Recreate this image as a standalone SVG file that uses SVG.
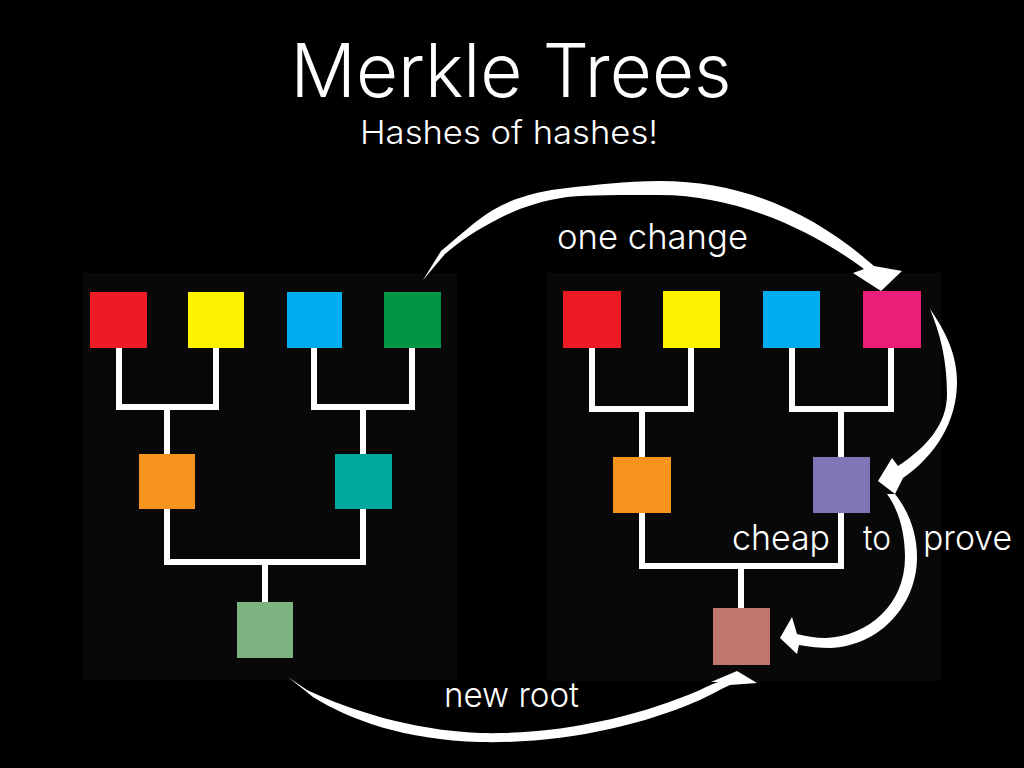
<svg xmlns="http://www.w3.org/2000/svg" width="1024" height="768" viewBox="0 0 1024 768">
<style>
.bg{fill:#000}
.panel{fill:#080808}
.ln{fill:none;stroke:#fff;stroke-width:6;stroke-linejoin:miter;stroke-linecap:butt}
.arr{fill:#fff;stroke:none}
.t{fill:#fff;font-family:Inter,Roboto,"Liberation Sans",sans-serif;font-weight:300}
.lbl{font-size:35px}
</style>
<rect class="bg" x="0" y="0" width="1024" height="768"/>
<rect class="panel" x="83" y="273" width="374" height="407"/>
<rect class="panel" x="547" y="273" width="394" height="408"/>

<text class="t" x="511" y="97" font-size="74" text-anchor="middle" textLength="441" lengthAdjust="spacingAndGlyphs">Merkle Trees</text>
<text class="t" x="509" y="144" font-size="32" text-anchor="middle" textLength="298" lengthAdjust="spacingAndGlyphs">Hashes of hashes!</text>

<g id="connectors">
  <g id="tree-lines">
    <polyline class="ln" points="119,348 119,407 216,407 216,348"/>
    <line class="ln" x1="167" y1="407" x2="167" y2="454"/>
    <polyline class="ln" points="314,348 314,407 412,407 412,348"/>
    <line class="ln" x1="363" y1="407" x2="363" y2="454"/>
    <polyline class="ln" points="167,509 167,562 363,562 363,509"/>
    <line class="ln" x1="265" y1="562" x2="265" y2="602"/>
    <polyline class="ln" points="592,348 592,409 691,409 691,348"/>
    <line class="ln" x1="642" y1="409" x2="642" y2="457"/>
    <polyline class="ln" points="792,348 792,409 891,409 891,348"/>
    <line class="ln" x1="841" y1="409" x2="841" y2="457"/>
    <polyline class="ln" points="642,513 642,566 841,566 841,513"/>
    <line class="ln" x1="741" y1="566" x2="741" y2="608"/>
  </g>
  <g id="arrows">
    <path id="arrow-one-change" class="arr" d="M423 280 L441 251 C458 237 475 221 493 210 C515 197 540 191 567 188 C594 185 625 181 660 181 C740 181 810 210 874 266 L902 271 L881 291 L853 273 L864 269 C805 225 730 195 660 195 C620 195 590 195 567 197 C540 201 520 208 500 218 C478 229 460 241 445 254 Z"/>
    <path id="arrow-up-path" class="arr" d="M930 309 C946 332 957 355 957 382 C957 422 935 456 903 478 L895 494 L878 481 L892 458 L898 466 C927 447 947 424 947 394 C947 360 940 333 930 309 Z"/>
    <path id="arrow-to-root" class="arr" d="M887 494 C900 512 905 535 905 557 C905 605 868 636 826 638 C815 638 805 636 797 634 L792 617 L780 638 L797 654 L799 645 C810 647 820 648 830 648 C880 646 917 605 917 557 C917 533 909 512 895 494 Z"/>
    <path id="arrow-new-root" class="arr" d="M288 677 L307 690 C350 710 410 730 480 733 C560 735 640 716 700 690 C706 687 712 684 718 682 L711 682 L737 671 L757 683 L730 685 C715 692 705 698 695 702 C640 726 560 744 480 742 C405 740 350 720 313 697 Z"/>
  </g>
</g>

<g id="left-tree">
  <rect id="l-red" x="90" y="292" width="57" height="56" fill="#ED1C24"/>
  <rect id="l-yellow" x="188" y="292" width="56" height="56" fill="#FFF200"/>
  <rect id="l-blue" x="287" y="292" width="55" height="56" fill="#00AEEF"/>
  <rect id="l-green" x="384" y="292" width="57" height="56" fill="#009444"/>
  <rect id="l-orange" x="139" y="454" width="56" height="55" fill="#F7941D"/>
  <rect id="l-teal" x="335" y="454" width="57" height="55" fill="#00A99D"/>
  <rect id="l-root" x="237" y="602" width="56" height="56" fill="#7DB281"/>
</g>
<g id="right-tree">
  <rect id="r-red" x="563" y="291" width="58" height="57" fill="#ED1C24"/>
  <rect id="r-yellow" x="663" y="291" width="57" height="57" fill="#FFF200"/>
  <rect id="r-blue" x="763" y="291" width="57" height="57" fill="#00AEEF"/>
  <rect id="r-pink" x="863" y="291" width="58" height="57" fill="#ED1E79"/>
  <rect id="r-orange" x="613" y="457" width="58" height="56" fill="#F7941D"/>
  <rect id="r-purple" x="813" y="457" width="57" height="56" fill="#7E76B7"/>
  <rect id="r-root" x="713" y="608" width="57" height="57" fill="#C0776D"/>
</g>

<g id="labels">
  <text class="t lbl" x="557" y="249" textLength="191" lengthAdjust="spacingAndGlyphs">one change</text>
  <text class="t lbl" x="444" y="707" textLength="135" lengthAdjust="spacingAndGlyphs">new root</text>
  <text class="t lbl" x="732" y="550" textLength="98" lengthAdjust="spacingAndGlyphs">cheap</text>
  <text class="t lbl" x="863" y="550" textLength="28" lengthAdjust="spacingAndGlyphs">to</text>
  <text class="t lbl" x="923" y="550" textLength="89" lengthAdjust="spacingAndGlyphs">prove</text>
</g>
</svg>
